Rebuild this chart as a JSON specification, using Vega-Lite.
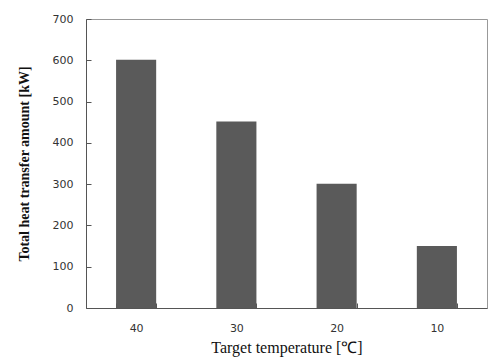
{
  "$schema": "https://vega.github.io/schema/vega-lite/v6.json",
  "width": 401,
  "height": 289,
  "autosize": {"type": "none"},
  "padding": {"left": 86, "top": 19, "right": 2, "bottom": 50},
  "background": "white",
  "config": {
    "view": {"stroke": "#999999", "strokeWidth": 1},
    "axis": {
      "grid": false,
      "domainColor": "#555555",
      "tickColor": "#555555",
      "labelFont": "DejaVu Sans",
      "labelFontSize": 11,
      "labelColor": "#333333",
      "titleFont": "Liberation Serif",
      "titleColor": "#111111"
    }
  },
  "data": {
    "values": [
      {"temp": "40", "heat": 601},
      {"temp": "30", "heat": 452},
      {"temp": "20", "heat": 301},
      {"temp": "10", "heat": 150}
    ]
  },
  "mark": {"type": "bar", "color": "#5a5a5a"},
  "encoding": {
    "x": {
      "field": "temp",
      "type": "ordinal",
      "sort": ["40", "30", "20", "10"],
      "scale": {"paddingInner": 0.6, "paddingOuter": 0.3},
      "axis": {
        "title": "Target temperature [℃]",
        "titleFontSize": 16,
        "titleFontWeight": "normal",
        "titlePadding": 6,
        "labelAngle": 0,
        "labelPadding": 19,
        "tickBand": "extent",
        "tickSize": -5
      }
    },
    "y": {
      "field": "heat",
      "type": "quantitative",
      "scale": {"domain": [0, 700]},
      "axis": {
        "title": "Total heat transfer amount [kW]",
        "titleFontSize": 14,
        "titleFontWeight": "bold",
        "titlePadding": 21,
        "values": [0, 100, 200, 300, 400, 500, 600, 700],
        "labelPadding": 18,
        "tickSize": -5
      }
    }
  }
}
